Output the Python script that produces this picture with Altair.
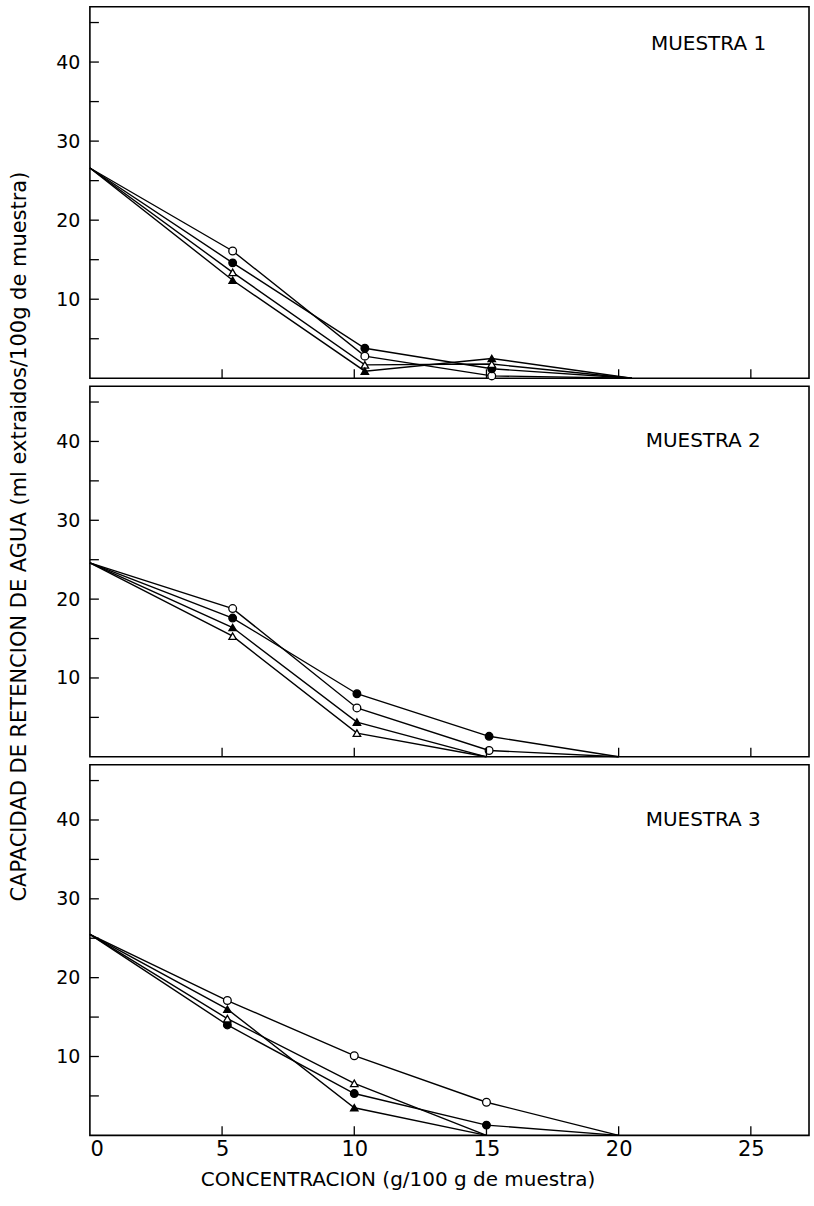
import altair as alt
import pandas as pd

# ---------------- data ----------------
SERIES = ["oc", "fc", "ot", "ft"]  # open circle, filled circle, open triangle, filled triangle

# Muestra 1
P1_X = {"oc": [0, 5.4, 10.4, 15.2, 20.5], "fc": [0, 5.4, 10.4, 15.2, 20.5],
        "ot": [0, 5.4, 10.4, 15.2, 20.5], "ft": [0, 5.4, 10.4, 15.2, 20.5]}
P1_Y = {"oc": [26.6, 16.1, 2.8, 0.3, 0], "fc": [26.6, 14.6, 3.8, 1.2, 0],
        "ot": [26.6, 13.4, 1.7, 1.8, 0], "ft": [26.6, 12.4, 0.9, 2.5, 0]}
# Muestra 2
P2_X = {"oc": [0, 5.4, 10.1, 15.1, 20], "fc": [0, 5.4, 10.1, 15.1, 20],
        "ot": [0, 5.4, 10.1, 15], "ft": [0, 5.4, 10.1, 15]}
P2_Y = {"oc": [24.6, 18.8, 6.2, 0.8, 0], "fc": [24.6, 17.6, 8.0, 2.6, 0],
        "ot": [24.6, 15.3, 3.0, 0], "ft": [24.6, 16.4, 4.4, 0]}
# Muestra 3
P3_X = {"oc": [0, 5.2, 10, 15, 20], "fc": [0, 5.2, 10, 15, 20],
        "ot": [0, 5.2, 10, 15], "ft": [0, 5.2, 10, 15]}
P3_Y = {"oc": [25.5, 17.1, 10.1, 4.2, 0], "fc": [25.5, 14.0, 5.3, 1.3, 0],
        "ot": [25.5, 14.8, 6.6, 0], "ft": [25.5, 16.0, 3.5, 0]}

PANEL_LABELS = ["MUESTRA 1", "MUESTRA 2", "MUESTRA 3"]
LABEL_POS_X = [23.4, 23.2, 23.2]
LABEL_POS_Y = [42.3, 40.0, 40.0]

X_TICKS = [5, 10, 15, 20, 25]
X_LABELS = [0, 5, 10, 15, 20, 25]
Y_LABELS = [10, 20, 30, 40]
Y_TICKS = [5, 10, 15, 20, 25, 30, 35, 40, 45]

X_TITLE = "CONCENTRACION (g/100 g de muestra)"
Y_TITLE = "CAPACIDAD DE RETENCION DE AGUA (ml extraidos/100g de muestra)"

FONT = "DejaVu Sans"
W = 720
HEIGHTS = [372, 371, 371]
X_DOM = [0, 27.2]
Y_DOM = [0, 47]


def frame(xs, ys):
    rows = []
    for s in SERIES:
        for i, (x, y) in enumerate(zip(xs[s], ys[s])):
            rows.append({"s": s, "x": x, "y": y, "o": i})
    return pd.DataFrame(rows)


def panel(xs, ys, idx, last, mid):
    h = HEIGHTS[idx]
    df = frame(xs, ys)
    if last:
        xaxis = alt.Axis(values=X_LABELS, ticks=False, domain=False, grid=False,
                         labelFontSize=21, labelPadding=3, labelFont=FONT,
                         labelColor="black", title=X_TITLE, titleFont=FONT,
                         titleFontSize=20, titleFontWeight="normal",
                         titleColor="black", titlePadding=10, titleX=308)
    else:
        xaxis = None
    if mid:
        yaxis = alt.Axis(values=Y_LABELS, ticks=False, domain=False, grid=False,
                         labelFontSize=19, labelPadding=10, labelFont=FONT,
                         labelColor="black", title=Y_TITLE, titleFont=FONT,
                         titleFontSize=21, titleFontWeight="normal",
                         titleColor="black", titleX=-60, titleY=150)
    else:
        yaxis = alt.Axis(values=Y_LABELS, ticks=False, domain=False, grid=False,
                         labelFontSize=19, labelPadding=10, labelFont=FONT,
                         labelColor="black", title=None)
    xs_ = alt.Scale(domain=X_DOM, nice=False, zero=False)
    ys_ = alt.Scale(domain=Y_DOM, nice=False, zero=False)

    base = alt.Chart(df)
    lines = base.mark_line(color="black", strokeWidth=1.4).encode(
        x=alt.X("x:Q", scale=xs_, axis=xaxis),
        y=alt.Y("y:Q", scale=ys_, axis=yaxis),
        detail="s:N", order="o:O")
    pts = base.transform_filter("datum.x > 0 && datum.y > 0").mark_point(
        stroke="black", strokeWidth=1.3, opacity=1, filled=False).encode(
        x="x:Q", y="y:Q",
        shape=alt.Shape("s:N", scale=alt.Scale(domain=SERIES,
                        range=["circle", "circle", "triangle-up", "triangle-up"]), legend=None),
        fill=alt.Fill("s:N", scale=alt.Scale(domain=SERIES,
                      range=["white", "black", "white", "black"]), legend=None),
        size=alt.Size("s:N", scale=alt.Scale(domain=SERIES, range=[60, 55, 34, 34]), legend=None))
    xt = alt.Chart(pd.DataFrame({"t": X_TICKS})).mark_rule(color="black", strokeWidth=1.3).encode(
        x="t:Q", y=alt.value(h), y2=alt.value(h - 9))
    yt = alt.Chart(pd.DataFrame({"t": Y_TICKS})).mark_rule(color="black", strokeWidth=1.3).encode(
        y="t:Q", x=alt.value(0), x2=alt.value(9))
    lab = alt.Chart(pd.DataFrame({"t": [PANEL_LABELS[idx]], "x": [LABEL_POS_X[idx]],
                                  "y": [LABEL_POS_Y[idx]]})).mark_text(
        font=FONT, fontSize=20, color="black", align="center", baseline="middle").encode(
        x="x:Q", y="y:Q", text="t:N")
    return alt.layer(lines, pts, xt, yt, lab).properties(width=W, height=h)


p1 = panel(P1_X, P1_Y, 0, False, False)
p2 = panel(P2_X, P2_Y, 1, False, True)
p3 = panel(P3_X, P3_Y, 2, True, False)

chart = alt.vconcat(p1, p2, p3, spacing=8, bounds="flush").properties(
    padding={"left": 8, "top": 5, "right": 4, "bottom": 4},
    background="white"
).configure_view(stroke="black", strokeWidth=1.6)

chart.save("out.html", embed_options={"renderer": "svg", "actions": False})
